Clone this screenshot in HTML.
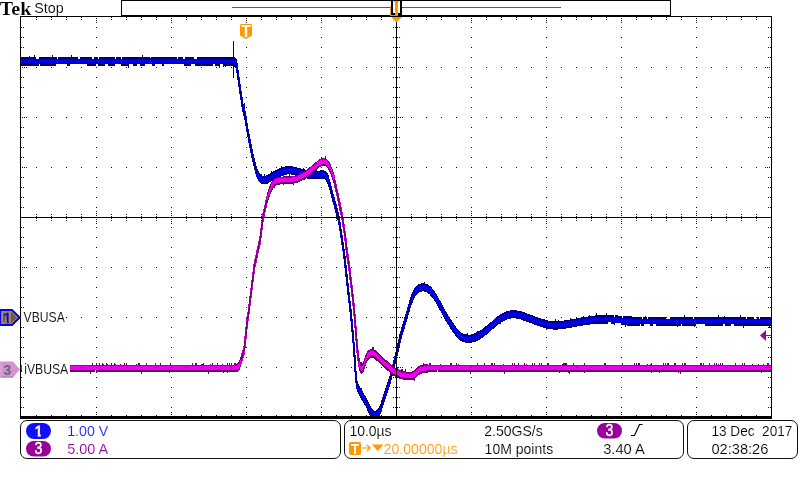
<!DOCTYPE html>
<html lang="en"><head><meta charset="utf-8"><title>Tek scope capture</title>
<style>html,body{margin:0;padding:0;background:#fff;overflow:hidden}svg{display:block}text{white-space:pre}</style></head>
<body>
<svg width="800" height="480" viewBox="0 0 800 480" font-family="Liberation Sans, Arial, sans-serif" font-size="15.5">
<defs><filter id="tf" x="0" y="0" width="800" height="480" filterUnits="userSpaceOnUse" color-interpolation-filters="sRGB"><feOffset dx="0" dy="0"/></filter></defs>
<rect width="800" height="480" fill="#fff"/>
<g shape-rendering="crispEdges">
<path fill="#000074" d="M233 41h1v16h-1zM52 55h1v2h-1zM34 55h1v2h-1zM142 55h1v2h-1zM71 55h1v2h-1zM29 56h1v1h-1zM122 57h28v1h-28zM151 57h26v1h-26zM197 57h38v1h-38zM21 57h15v2h-15zM39 57h18v2h-18zM185 57h9v2h-9zM58 57h20v2h-20zM99 57h16v2h-16zM178 57h5v2h-5zM94 57h4v2h-4zM116 57h5v2h-5zM80 57h12v2h-12zM122 58h55v1h-55zM197 58h39v1h-39zM21 59h216v4h-216zM21 63h217v1h-217zM121 64h8v2h-8zM21 64h18v2h-18zM195 64h18v2h-18zM87 64h9v2h-9zM108 64h7v2h-7zM140 64h5v2h-5zM152 64h3v2h-3zM215 64h5v2h-5zM162 64h2v2h-2zM67 64h3v2h-3zM223 64h15v2h-15zM184 64h7v2h-7zM133 64h4v2h-4zM40 64h16v2h-16zM98 64h7v2h-7zM233 66h5v1h-5zM223 66h1v1h-1zM225 66h1v1h-1zM219 66h1v2h-1zM128 66h1v2h-1zM235 67h3v1h-3zM236 68h2v2h-2zM236 70h3v3h-3zM237 73h2v4h-2zM233 67h1v11h-1zM237 77h3v3h-3zM238 80h2v4h-2zM238 84h3v3h-3zM239 87h2v4h-2zM239 91h3v3h-3zM240 94h2v3h-2zM240 97h3v3h-3zM241 100h2v4h-2zM244 103h1v1h-1zM241 104h4v3h-4zM242 107h3v4h-3zM242 111h4v1h-4zM243 112h3v4h-3zM244 116h3v4h-3zM245 120h2v3h-2zM245 123h3v3h-3zM246 126h2v3h-2zM246 129h3v3h-3zM247 132h2v2h-2zM247 134h3v3h-3zM248 137h2v2h-2zM248 139h3v4h-3zM249 143h2v1h-2zM249 144h3v4h-3zM250 148h2v1h-2zM250 149h3v4h-3zM251 153h2v1h-2zM251 154h3v4h-3zM252 158h3v4h-3zM253 162h3v4h-3zM281 166h1v1h-1zM285 166h8v1h-8zM281 167h16v1h-16zM254 166h3v3h-3zM279 168h22v1h-22zM303 168h1v1h-1zM277 169h28v1h-28zM254 169h4v1h-4zM312 169h1v2h-1zM275 170h34v1h-34zM320 170h4v1h-4zM255 170h3v1h-3zM310 170h1v1h-1zM316 170h1v1h-1zM271 171h1v1h-1zM273 171h53v1h-53zM255 171h4v2h-4zM271 172h56v1h-56zM255 173h5v1h-5zM270 173h58v1h-58zM291 174h37v1h-37zM268 174h19v1h-19zM264 174h1v2h-1zM256 174h6v2h-6zM266 175h17v1h-17zM296 175h33v1h-33zM256 176h25v1h-25zM300 176h29v1h-29zM304 177h25v1h-25zM257 177h21v1h-21zM302 177h1v2h-1zM257 178h19v1h-19zM307 178h22v1h-22zM304 178h1v2h-1zM325 179h5v1h-5zM258 179h16v1h-16zM258 180h14v1h-14zM326 180h4v2h-4zM259 181h12v1h-12zM260 182h9v1h-9zM327 182h4v2h-4zM261 183h7v1h-7zM328 184h3v2h-3zM328 186h4v1h-4zM329 187h3v3h-3zM330 190h3v4h-3zM331 194h3v3h-3zM331 197h4v1h-4zM332 198h3v3h-3zM332 201h4v1h-4zM333 202h3v2h-3zM333 204h4v1h-4zM334 205h3v3h-3zM334 208h4v1h-4zM335 209h3v3h-3zM335 212h4v1h-4zM336 213h3v3h-3zM337 216h3v4h-3zM338 220h2v2h-2zM338 222h3v3h-3zM339 225h2v4h-2zM339 229h3v2h-3zM340 231h2v4h-2zM340 235h3v3h-3zM341 238h2v4h-2zM341 242h3v3h-3zM342 245h2v4h-2zM342 249h3v2h-3zM343 251h2v5h-2zM343 256h3v3h-3zM344 259h2v6h-2zM344 265h3v3h-3zM345 268h2v6h-2zM345 274h3v3h-3zM346 277h2v6h-2zM424 282h1v1h-1zM421 283h4v1h-4zM418 284h10v1h-10zM346 283h3v3h-3zM417 285h12v1h-12zM416 286h15v1h-15zM415 287h17v1h-17zM414 288h18v1h-18zM414 289h19v1h-19zM413 290h21v1h-21zM347 286h2v6h-2zM413 291h9v1h-9zM424 291h11v1h-11zM412 292h7v1h-7zM427 292h8v1h-8zM412 293h6v1h-6zM428 293h8v1h-8zM347 292h3v3h-3zM411 294h6v1h-6zM430 294h7v2h-7zM411 295h5v1h-5zM431 296h7v1h-7zM411 296h4v1h-4zM410 297h5v1h-5zM432 297h6v1h-6zM433 298h6v1h-6zM410 298h4v2h-4zM434 299h5v1h-5zM348 295h2v6h-2zM434 300h6v1h-6zM435 301h6v1h-6zM409 300h4v3h-4zM348 301h3v2h-3zM436 302h5v1h-5zM409 303h3v1h-3zM436 303h6v1h-6zM437 304h5v1h-5zM408 304h4v1h-4zM437 305h6v1h-6zM408 305h3v2h-3zM438 306h5v1h-5zM438 307h6v1h-6zM407 307h4v1h-4zM349 303h2v6h-2zM439 308h5v1h-5zM439 309h6v1h-6zM407 308h3v3h-3zM440 310h5v1h-5zM510 310h7v1h-7zM349 309h3v3h-3zM406 311h4v1h-4zM506 311h16v1h-16zM441 311h5v1h-5zM441 312h6v1h-6zM504 312h21v1h-21zM406 312h3v2h-3zM442 313h5v1h-5zM502 313h25v1h-25zM606 313h1v2h-1zM596 313h1v2h-1zM500 314h30v1h-30zM442 314h6v1h-6zM405 314h4v1h-4zM615 315h3v1h-3zM499 315h34v1h-34zM589 315h1v1h-1zM595 315h19v1h-19zM443 315h5v1h-5zM740 315h1v2h-1zM684 315h1v2h-1zM405 315h3v2h-3zM718 315h1v2h-1zM588 316h26v1h-26zM443 316h6v1h-6zM645 316h1v1h-1zM583 316h1v1h-1zM724 316h1v1h-1zM615 316h7v1h-7zM497 316h38v1h-38zM623 316h9v1h-9zM496 317h42v1h-42zM623 317h19v1h-19zM581 317h41v1h-41zM350 312h2v7h-2zM757 317h2v2h-2zM643 317h4v2h-4zM648 317h18v2h-18zM760 317h11v2h-11zM404 317h4v2h-4zM694 317h52v2h-52zM444 317h6v2h-6zM670 317h23v2h-23zM747 317h7v2h-7zM516 318h25v1h-25zM495 318h16v1h-16zM576 318h66v1h-66zM570 318h1v1h-1zM570 319h201v1h-201zM494 319h13v1h-13zM521 319h24v1h-24zM445 319h6v1h-6zM555 319h1v2h-1zM350 319h3v2h-3zM404 319h3v2h-3zM493 320h12v1h-12zM558 320h1v1h-1zM564 320h207v1h-207zM445 320h7v1h-7zM523 320h25v1h-25zM526 321h245v1h-245zM492 321h11v1h-11zM446 321h6v1h-6zM403 321h4v1h-4zM447 322h6v1h-6zM529 322h79v1h-79zM611 322h160v1h-160zM490 322h11v1h-11zM403 322h3v2h-3zM611 323h4v1h-4zM532 323h76v1h-76zM621 323h150v1h-150zM489 323h12v1h-12zM447 323h7v1h-7zM402 324h4v1h-4zM614 324h1v1h-1zM488 324h10v1h-10zM621 324h19v1h-19zM448 324h6v1h-6zM534 324h56v1h-56zM656 324h25v2h-25zM705 324h18v2h-18zM650 324h3v2h-3zM734 324h37v2h-37zM641 324h3v2h-3zM682 324h14v2h-14zM725 324h6v2h-6zM487 325h10v1h-10zM449 325h6v1h-6zM537 325h46v1h-46zM627 325h13v1h-13zM402 325h3v2h-3zM625 325h1v2h-1zM540 326h37v1h-37zM677 326h1v1h-1zM694 326h1v1h-1zM449 326h7v1h-7zM485 326h11v1h-11zM769 326h1v2h-1zM743 326h1v2h-1zM484 327h11v1h-11zM543 327h29v1h-29zM450 327h6v1h-6zM401 327h4v2h-4zM450 328h7v1h-7zM546 328h20v1h-20zM483 328h11v1h-11zM351 321h2v9h-2zM546 329h1v1h-1zM482 329h10v1h-10zM451 329h7v1h-7zM553 329h5v1h-5zM401 329h3v2h-3zM480 330h11v1h-11zM452 330h7v1h-7zM351 330h3v2h-3zM400 331h4v1h-4zM452 331h8v1h-8zM477 331h13v1h-13zM476 332h13v1h-13zM453 332h8v1h-8zM400 332h3v2h-3zM454 333h9v1h-9zM474 333h14v1h-14zM467 333h1v1h-1zM455 334h13v1h-13zM399 334h4v1h-4zM471 334h16v1h-16zM455 335h30v1h-30zM456 336h28v1h-28zM457 337h26v1h-26zM399 335h3v4h-3zM458 338h23v1h-23zM459 339h21v1h-21zM460 340h18v1h-18zM352 332h2v10h-2zM462 341h14v1h-14zM398 339h3v4h-3zM352 342h3v1h-3zM465 342h7v1h-7zM397 343h3v4h-3zM397 347h2v1h-2zM396 348h3v4h-3zM353 343h2v12h-2zM395 352h3v4h-3zM353 355h3v2h-3zM394 356h3v4h-3zM393 360h3v4h-3zM392 364h3v4h-3zM354 357h2v14h-2zM391 368h3v4h-3zM354 371h3v1h-3zM390 372h3v4h-3zM389 376h3v3h-3zM388 379h4v1h-4zM355 372h2v9h-2zM388 380h3v2h-3zM355 381h3v2h-3zM387 382h4v2h-4zM356 383h2v1h-2zM387 384h3v1h-3zM356 384h3v2h-3zM386 385h4v2h-4zM356 386h4v2h-4zM386 387h3v1h-3zM356 388h6v1h-6zM385 388h4v2h-4zM357 389h5v2h-5zM385 390h3v1h-3zM357 391h6v1h-6zM384 391h4v2h-4zM358 392h5v1h-5zM384 393h3v1h-3zM358 393h6v1h-6zM359 394h5v1h-5zM383 394h4v2h-4zM359 395h6v1h-6zM383 396h3v1h-3zM360 396h6v2h-6zM382 397h4v2h-4zM361 398h6v2h-6zM382 399h3v1h-3zM362 400h6v1h-6zM381 400h4v2h-4zM363 401h5v1h-5zM363 402h6v1h-6zM381 402h3v2h-3zM364 403h5v1h-5zM380 404h4v1h-4zM364 404h6v1h-6zM380 405h3v1h-3zM365 405h5v1h-5zM379 406h4v2h-4zM366 406h5v2h-5zM367 408h5v1h-5zM378 408h4v1h-4zM367 409h6v1h-6zM377 409h5v1h-5zM376 410h6v1h-6zM367 410h7v1h-7zM368 411h14v1h-14zM368 412h13v1h-13zM369 413h12v1h-12zM369 414h11v1h-11zM370 415h10v1h-10z"/>
<path fill="#0000cc" d="M21 59h214v1h-214zM21 60h215v3h-215zM21 63h216v1h-216zM234 64h3v1h-3zM236 65h1v4h-1zM283 168h12v1h-12zM280 169h19v1h-19zM278 170h25v1h-25zM276 171h31v1h-31zM317 172h8v1h-8zM274 172h39v1h-39zM257 172h1v2h-1zM294 173h32v1h-32zM272 173h12v1h-12zM298 174h29v1h-29zM257 174h2v1h-2zM271 174h10v1h-10zM302 175h25v1h-25zM269 175h10v1h-10zM257 175h3v1h-3zM306 176h22v1h-22zM268 176h9v1h-9zM257 176h4v1h-4zM324 177h4v1h-4zM310 177h9v1h-9zM258 177h17v1h-17zM258 178h15v1h-15zM326 178h3v1h-3zM259 179h13v1h-13zM327 179h2v2h-2zM259 180h11v1h-11zM261 181h8v1h-8zM328 181h1v2h-1zM263 182h3v1h-3zM419 285h8v1h-8zM417 286h12v1h-12zM416 287h14v1h-14zM416 288h15v1h-15zM415 289h17v1h-17zM414 290h6v1h-6zM426 290h7v1h-7zM428 291h5v1h-5zM414 291h4v1h-4zM429 292h5v1h-5zM414 292h3v1h-3zM430 293h5v1h-5zM413 293h3v2h-3zM431 294h4v1h-4zM432 295h4v1h-4zM412 295h2v2h-2zM433 296h3v1h-3zM433 297h4v1h-4zM411 297h3v1h-3zM434 298h4v1h-4zM411 298h2v2h-2zM435 299h3v1h-3zM411 300h1v2h-1zM436 300h3v2h-3zM437 302h3v2h-3zM438 304h3v1h-3zM439 305h2v1h-2zM439 306h3v1h-3zM440 307h2v1h-2zM440 308h3v1h-3zM441 309h3v2h-3zM513 311h1v1h-1zM442 311h3v2h-3zM508 312h12v1h-12zM505 313h18v1h-18zM443 313h3v2h-3zM503 314h23v1h-23zM501 315h28v1h-28zM444 315h3v1h-3zM499 316h32v1h-32zM445 316h3v2h-3zM498 317h11v1h-11zM519 317h15v1h-15zM592 317h26v1h-26zM584 318h48v1h-48zM522 318h15v1h-15zM497 318h9v1h-9zM446 318h3v2h-3zM496 319h8v1h-8zM579 319h192v1h-192zM525 319h14v1h-14zM494 320h8v1h-8zM447 320h3v1h-3zM528 320h14v1h-14zM573 320h198v1h-198zM530 321h16v1h-16zM493 321h7v1h-7zM567 321h204v1h-204zM447 321h4v1h-4zM533 322h17v1h-17zM448 322h3v1h-3zM614 322h157v1h-157zM560 322h34v1h-34zM492 322h7v1h-7zM491 323h7v1h-7zM536 323h50v1h-50zM449 323h3v1h-3zM627 323h144v1h-144zM538 324h42v1h-42zM490 324h6v1h-6zM449 324h4v1h-4zM489 325h6v1h-6zM450 325h4v1h-4zM541 325h34v1h-34zM487 326h7v1h-7zM545 326h24v1h-24zM451 326h3v1h-3zM549 327h14v1h-14zM486 327h7v1h-7zM451 327h4v1h-4zM485 328h7v1h-7zM452 328h4v1h-4zM484 329h7v1h-7zM453 329h4v1h-4zM453 330h5v1h-5zM482 330h8v1h-8zM454 331h4v1h-4zM481 331h7v1h-7zM454 332h5v1h-5zM479 332h8v1h-8zM455 333h5v1h-5zM477 333h9v1h-9zM475 334h10v1h-10zM456 334h6v1h-6zM457 335h7v1h-7zM473 335h10v1h-10zM458 336h24v1h-24zM458 337h22v1h-22zM459 338h20v1h-20zM461 339h16v1h-16zM463 340h11v1h-11zM468 341h2v1h-2zM389 379h1v3h-1zM388 382h2v2h-2zM388 384h1v1h-1zM357 384h1v3h-1zM387 385h2v2h-2zM387 387h1v1h-1zM357 387h2v2h-2zM386 388h2v2h-2zM358 389h2v1h-2zM386 390h1v1h-1zM358 390h3v1h-3zM359 391h2v1h-2zM385 391h2v2h-2zM359 392h3v2h-3zM385 393h1v1h-1zM360 394h3v1h-3zM384 394h2v2h-2zM361 395h3v2h-3zM384 396h1v1h-1zM383 397h2v1h-2zM362 397h3v2h-3zM383 398h1v3h-1zM363 399h3v2h-3zM364 401h3v1h-3zM365 402h2v1h-2zM365 403h3v1h-3zM366 404h2v1h-2zM366 405h3v1h-3zM367 406h2v1h-2zM367 407h3v1h-3zM380 407h1v2h-1zM368 408h2v1h-2zM379 409h2v1h-2zM368 409h3v1h-3zM369 410h3v1h-3zM378 410h3v1h-3zM369 411h4v1h-4zM377 411h4v1h-4zM370 412h10v2h-10zM371 414h9v2h-9z"/>
<path fill="#0000f4" d="M21 60h215v2h-215zM234 62h2v1h-2zM235 63h2v2h-2zM236 65h1v4h-1zM283 169h12v1h-12zM280 170h19v1h-19zM278 171h6v1h-6zM294 171h9v1h-9zM298 172h9v1h-9zM276 172h5v1h-5zM257 172h1v2h-1zM317 173h8v1h-8zM274 173h5v1h-5zM302 173h11v1h-11zM257 174h2v1h-2zM306 174h21v1h-21zM272 174h5v1h-5zM324 175h3v1h-3zM310 175h9v1h-9zM271 175h4v1h-4zM257 175h3v1h-3zM269 176h4v1h-4zM257 176h4v1h-4zM326 176h2v2h-2zM258 177h3v1h-3zM268 177h4v1h-4zM326 178h3v1h-3zM258 178h12v1h-12zM259 179h10v1h-10zM327 179h2v2h-2zM263 180h3v1h-3zM259 180h2v1h-2zM328 181h1v2h-1zM419 286h8v1h-8zM417 286h1v1h-1zM416 287h13v1h-13zM426 288h5v1h-5zM416 288h4v1h-4zM428 289h4v1h-4zM415 289h3v1h-3zM429 290h4v1h-4zM414 290h4v2h-4zM430 291h3v1h-3zM430 292h4v1h-4zM414 292h3v1h-3zM430 293h5v1h-5zM413 293h3v2h-3zM431 294h4v1h-4zM432 295h4v1h-4zM412 295h2v2h-2zM433 296h3v1h-3zM433 297h4v1h-4zM411 297h3v1h-3zM434 298h4v1h-4zM411 298h2v2h-2zM435 299h3v1h-3zM411 300h1v2h-1zM436 300h3v2h-3zM437 302h3v2h-3zM438 304h3v1h-3zM439 305h2v1h-2zM439 306h3v1h-3zM440 307h2v1h-2zM440 308h3v1h-3zM441 309h3v2h-3zM442 311h3v2h-3zM513 312h1v1h-1zM508 313h12v1h-12zM443 313h3v2h-3zM505 314h18v1h-18zM519 315h7v1h-7zM503 315h6v1h-6zM444 315h3v1h-3zM522 316h7v1h-7zM501 316h5v1h-5zM445 316h3v2h-3zM525 317h6v1h-6zM498 317h6v1h-6zM497 318h5v1h-5zM528 318h6v1h-6zM592 318h26v1h-26zM446 318h3v2h-3zM584 319h48v1h-48zM496 319h4v1h-4zM530 319h7v1h-7zM494 320h5v1h-5zM447 320h3v1h-3zM614 320h157v1h-157zM579 320h15v1h-15zM533 320h6v1h-6zM493 321h6v1h-6zM627 321h144v1h-144zM573 321h13v1h-13zM447 321h4v1h-4zM536 321h6v1h-6zM538 322h8v1h-8zM567 322h13v1h-13zM492 322h7v1h-7zM448 322h3v1h-3zM491 323h7v1h-7zM560 323h15v1h-15zM449 323h3v1h-3zM541 323h9v1h-9zM490 324h6v1h-6zM545 324h24v1h-24zM449 324h4v1h-4zM489 325h6v1h-6zM549 325h14v1h-14zM450 325h4v1h-4zM451 326h3v1h-3zM489 326h5v1h-5zM487 327h6v1h-6zM451 327h4v1h-4zM486 328h6v1h-6zM452 328h4v1h-4zM489 329h2v1h-2zM485 329h3v1h-3zM453 329h4v1h-4zM453 330h5v1h-5zM489 330h1v1h-1zM484 330h3v1h-3zM454 331h4v1h-4zM482 331h4v1h-4zM481 332h4v1h-4zM454 332h5v1h-5zM479 333h4v1h-4zM455 333h5v1h-5zM477 334h5v1h-5zM456 334h4v1h-4zM475 335h5v1h-5zM457 335h5v1h-5zM473 336h6v1h-6zM458 336h6v1h-6zM458 337h2v1h-2zM461 337h16v1h-16zM463 338h11v1h-11zM459 338h1v1h-1zM468 339h2v1h-2zM389 379h1v3h-1zM388 382h2v2h-2zM388 384h1v1h-1zM357 384h1v3h-1zM387 385h2v2h-2zM387 387h1v1h-1zM357 387h2v2h-2zM386 388h2v2h-2zM358 389h2v1h-2zM386 390h1v1h-1zM358 390h3v1h-3zM359 391h2v1h-2zM385 391h2v2h-2zM359 392h3v2h-3zM385 393h1v1h-1zM360 394h3v1h-3zM384 394h2v2h-2zM361 395h3v2h-3zM384 396h1v1h-1zM383 397h2v1h-2zM362 397h3v2h-3zM383 398h1v3h-1zM363 399h3v2h-3zM364 401h3v1h-3zM365 402h2v1h-2zM365 403h3v1h-3zM366 404h2v1h-2zM366 405h3v1h-3zM367 406h2v1h-2zM367 407h3v1h-3zM380 407h1v2h-1zM368 408h2v1h-2zM379 409h2v1h-2zM368 409h3v1h-3zM369 410h3v1h-3zM378 410h3v1h-3zM369 411h4v1h-4zM377 411h4v1h-4zM370 412h3v1h-3zM376 412h4v1h-4zM370 413h10v1h-10zM371 414h9v2h-9z"/>
<path fill="#0000d4" d="M237 63h1v4h-1zM238 70h1v5h-1zM237 76h1v4h-1zM239 77h1v4h-1zM238 83h1v4h-1zM240 84h1v4h-1zM239 90h1v4h-1zM241 91h1v4h-1zM240 96h1v4h-1zM242 97h1v4h-1zM244 103h1v1h-1zM241 103h1v4h-1zM243 104h2v3h-2zM244 107h1v4h-1zM242 108h1v4h-1zM245 111h1v4h-1zM243 112h1v4h-1zM244 116h1v4h-1zM246 116h1v4h-1zM245 122h1v4h-1zM247 123h1v4h-1zM246 128h1v4h-1zM248 129h1v3h-1zM247 134h1v3h-1zM249 134h1v4h-1zM248 139h1v4h-1zM250 139h1v4h-1zM251 144h1v4h-1zM249 144h1v4h-1zM252 149h1v4h-1zM250 149h1v4h-1zM251 154h1v4h-1zM253 154h1v4h-1zM254 158h1v4h-1zM252 159h1v3h-1zM255 162h1v4h-1zM253 163h1v3h-1zM256 166h1v3h-1zM254 167h1v3h-1zM255 170h1v3h-1zM255 173h2v1h-2zM256 174h1v3h-1zM329 179h1v3h-1zM330 182h1v4h-1zM331 186h1v3h-1zM329 187h1v3h-1zM332 190h1v3h-1zM330 191h1v3h-1zM333 194h1v3h-1zM331 195h1v3h-1zM334 197h1v4h-1zM332 198h1v4h-1zM335 201h1v3h-1zM333 202h1v3h-1zM336 204h1v4h-1zM334 206h1v3h-1zM337 208h1v3h-1zM335 209h1v4h-1zM338 212h1v3h-1zM336 213h1v3h-1zM337 216h1v4h-1zM339 216h1v4h-1zM338 221h1v4h-1zM340 222h1v4h-1zM339 228h1v3h-1zM341 229h1v3h-1zM340 234h1v4h-1zM342 235h1v4h-1zM341 240h1v5h-1zM343 242h1v4h-1zM342 247h1v4h-1zM344 249h1v4h-1zM343 254h1v5h-1zM345 256h1v5h-1zM344 263h1v5h-1zM346 265h1v5h-1zM345 272h1v5h-1zM347 274h1v5h-1zM346 281h1v5h-1zM348 283h1v5h-1zM347 290h1v5h-1zM349 292h1v5h-1zM410 297h1v3h-1zM348 299h1v4h-1zM409 300h1v4h-1zM350 301h1v5h-1zM408 304h1v3h-1zM410 305h1v3h-1zM407 307h1v4h-1zM349 307h1v5h-1zM409 309h1v3h-1zM351 309h1v5h-1zM406 311h1v3h-1zM408 312h1v3h-1zM405 314h1v3h-1zM407 316h1v3h-1zM350 316h1v5h-1zM404 317h1v4h-1zM406 319h1v3h-1zM403 321h1v3h-1zM352 319h1v6h-1zM405 322h1v3h-1zM402 324h1v3h-1zM404 325h1v4h-1zM401 327h1v3h-1zM351 327h1v5h-1zM403 329h1v3h-1zM400 331h1v3h-1zM402 332h1v3h-1zM353 330h1v6h-1zM399 334h1v4h-1zM401 335h1v4h-1zM398 339h1v3h-1zM352 338h1v5h-1zM400 339h1v4h-1zM399 343h1v4h-1zM397 343h1v4h-1zM354 342h1v6h-1zM396 348h1v3h-1zM398 348h1v4h-1zM395 352h1v3h-1zM397 353h1v3h-1zM353 351h1v6h-1zM394 356h1v3h-1zM396 357h1v3h-1zM355 355h1v7h-1zM393 360h1v4h-1zM395 361h1v3h-1zM392 364h1v4h-1zM394 365h1v3h-1zM354 365h1v7h-1zM391 368h1v4h-1zM393 369h1v3h-1zM390 372h1v3h-1zM392 373h1v3h-1zM356 371h1v7h-1zM391 377h1v3h-1zM355 379h1v4h-1zM390 381h1v3h-1zM356 386h1v3h-1zM382 397h1v3h-1zM381 400h1v3h-1zM382 405h1v3h-1zM381 408h1v4h-1z"/>
<path fill="#6c006c" d="M325 156h1v2h-1zM321 158h5v1h-5zM319 159h8v1h-8zM318 160h10v1h-10zM317 161h12v1h-12zM315 162h15v1h-15zM314 163h16v1h-16zM313 164h18v1h-18zM312 165h19v1h-19zM311 166h10v1h-10zM326 166h5v1h-5zM327 167h5v1h-5zM309 167h10v1h-10zM328 168h4v1h-4zM308 168h10v1h-10zM307 169h10v1h-10zM328 169h5v1h-5zM306 170h10v1h-10zM329 170h4v2h-4zM304 171h11v1h-11zM299 172h1v1h-1zM302 172h11v1h-11zM330 172h4v2h-4zM299 173h13v1h-13zM331 174h3v1h-3zM298 174h13v1h-13zM289 174h1v2h-1zM295 175h15v1h-15zM283 175h1v1h-1zM331 175h4v2h-4zM283 176h26v1h-26zM276 177h31v1h-31zM274 178h32v1h-32zM332 177h3v3h-3zM273 179h31v1h-31zM272 180h30v1h-30zM272 181h28v1h-28zM333 180h3v3h-3zM271 182h27v1h-27zM334 183h2v1h-2zM271 183h23v1h-23zM270 184h10v1h-10zM283 184h1v1h-1zM293 184h1v1h-1zM270 185h6v1h-6zM334 184h3v4h-3zM269 186h6v2h-6zM335 188h2v1h-2zM269 188h4v1h-4zM268 189h5v1h-5zM335 189h3v3h-3zM268 190h4v2h-4zM336 192h2v1h-2zM267 192h4v2h-4zM336 193h3v3h-3zM267 194h3v2h-3zM266 196h4v1h-4zM337 196h2v2h-2zM266 197h3v3h-3zM337 198h3v3h-3zM338 201h2v1h-2zM265 200h3v3h-3zM265 203h2v2h-2zM338 202h3v4h-3zM339 206h2v1h-2zM264 205h3v3h-3zM264 208h2v1h-2zM339 207h3v4h-3zM263 209h3v3h-3zM340 211h2v1h-2zM263 212h2v1h-2zM340 212h3v3h-3zM262 213h3v4h-3zM341 215h2v3h-2zM262 217h2v3h-2zM341 218h3v2h-3zM261 220h3v2h-3zM342 220h2v4h-2zM342 224h3v3h-3zM261 222h2v6h-2zM260 228h3v2h-3zM343 227h2v4h-2zM343 231h3v2h-3zM260 230h2v6h-2zM344 233h2v5h-2zM259 236h3v2h-3zM344 238h3v3h-3zM259 238h2v3h-2zM258 241h3v4h-3zM258 245h2v1h-2zM345 241h2v6h-2zM257 246h3v3h-3zM345 247h3v3h-3zM257 249h2v1h-2zM256 250h3v3h-3zM346 250h2v4h-2zM256 253h2v2h-2zM346 254h3v4h-3zM255 255h3v3h-3zM255 258h2v1h-2zM347 258h2v3h-2zM254 259h3v4h-3zM347 261h3v3h-3zM254 263h2v1h-2zM253 264h3v3h-3zM348 264h2v4h-2zM348 268h3v3h-3zM253 267h2v5h-2zM252 272h3v2h-3zM349 271h2v6h-2zM252 274h2v6h-2zM349 277h3v3h-3zM251 280h3v2h-3zM350 280h2v5h-2zM251 282h2v6h-2zM350 285h3v3h-3zM250 288h3v2h-3zM351 288h2v6h-2zM250 290h2v6h-2zM351 294h3v3h-3zM249 296h3v2h-3zM352 297h2v6h-2zM249 298h2v6h-2zM352 303h3v3h-3zM248 304h3v2h-3zM248 306h2v6h-2zM353 306h2v8h-2zM247 312h3v2h-3zM353 314h3v2h-3zM247 314h2v4h-2zM246 318h3v3h-3zM354 316h2v10h-2zM246 321h2v6h-2zM354 326h3v2h-3zM245 327h3v2h-3zM245 329h2v7h-2zM355 328h2v11h-2zM244 336h3v3h-3zM355 339h3v2h-3zM244 339h2v7h-2zM243 346h3v2h-3zM372 347h2v2h-2zM356 341h2v9h-2zM243 348h2v2h-2zM370 349h4v1h-4zM368 350h8v1h-8zM367 351h10v1h-10zM242 350h3v3h-3zM356 350h3v3h-3zM367 352h11v1h-11zM366 353h13v1h-13zM241 353h4v2h-4zM366 354h14v1h-14zM365 355h16v1h-16zM241 355h3v2h-3zM365 356h17v1h-17zM357 353h2v5h-2zM365 357h18v1h-18zM240 357h4v1h-4zM364 358h6v1h-6zM374 358h10v1h-10zM240 358h3v2h-3zM375 359h10v1h-10zM364 359h5v1h-5zM357 358h3v3h-3zM364 360h4v1h-4zM376 360h11v1h-11zM239 360h4v1h-4zM378 361h10v1h-10zM358 361h2v1h-2zM239 361h3v1h-3zM363 361h4v2h-4zM358 362h4v1h-4zM379 362h10v1h-10zM238 362h4v1h-4zM234 363h2v1h-2zM114 363h1v1h-1zM563 363h4v1h-4zM380 363h10v1h-10zM651 363h1v1h-1zM106 363h1v1h-1zM102 363h1v1h-1zM423 363h1v1h-1zM203 363h1v1h-1zM237 363h5v1h-5zM491 363h2v2h-2zM494 363h1v2h-1zM622 363h1v2h-1zM99 363h1v2h-1zM742 363h1v2h-1zM638 363h2v2h-2zM539 363h1v2h-1zM684 363h2v2h-2zM450 363h2v2h-2zM477 363h1v2h-1zM138 363h2v2h-2zM155 363h1v2h-1zM541 363h1v2h-1zM573 363h1v2h-1zM767 363h2v2h-2zM720 363h1v2h-1zM192 363h1v2h-1zM665 363h1v2h-1zM160 363h1v2h-1zM96 363h1v2h-1zM532 363h1v2h-1zM146 363h1v2h-1zM547 363h2v2h-2zM518 363h1v2h-1zM229 363h1v2h-1zM716 363h1v2h-1zM124 363h1v2h-1zM744 363h1v2h-1zM667 363h2v2h-2zM514 363h1v2h-1zM170 363h1v2h-1zM700 363h2v2h-2zM195 363h2v2h-2zM212 363h1v2h-1zM524 363h1v2h-1zM703 363h1v2h-1zM92 363h1v2h-1zM429 363h2v2h-2zM735 363h1v2h-1zM111 363h1v2h-1zM231 363h1v2h-1zM456 363h1v2h-1zM634 363h1v2h-1zM604 363h2v2h-2zM534 363h1v2h-1zM584 363h1v2h-1zM722 363h1v2h-1zM217 363h1v2h-1zM126 363h1v2h-1zM227 363h1v2h-1zM636 363h1v2h-1zM484 363h1v2h-1zM663 363h1v2h-1zM709 363h1v2h-1zM674 363h2v2h-2zM682 363h1v2h-1zM512 363h1v2h-1zM714 363h1v2h-1zM526 364h1v1h-1zM381 364h10v1h-10zM718 364h1v1h-1zM136 364h1v1h-1zM210 364h1v1h-1zM562 364h5v1h-5zM758 364h1v1h-1zM650 364h2v1h-2zM201 364h3v1h-3zM106 364h2v1h-2zM423 364h5v1h-5zM102 364h2v1h-2zM752 364h1v1h-1zM120 364h1v1h-1zM763 364h1v1h-1zM222 364h1v1h-1zM392 364h1v1h-1zM458 364h1v1h-1zM440 364h1v1h-1zM647 364h1v1h-1zM234 364h7v1h-7zM114 364h2v1h-2zM503 364h1v1h-1zM358 363h8v3h-8zM382 365h11v1h-11zM420 365h351v1h-351zM70 365h171v2h-171zM418 366h353v1h-353zM358 366h7v1h-7zM383 366h10v1h-10zM397 367h1v1h-1zM384 367h11v1h-11zM417 367h354v1h-354zM359 367h6v2h-6zM416 368h355v1h-355zM385 368h13v1h-13zM70 367h170v3h-170zM401 369h2v1h-2zM386 369h13v1h-13zM415 369h356v1h-356zM359 369h5v2h-5zM405 369h1v2h-1zM414 370h23v1h-23zM96 370h143v1h-143zM387 370h16v1h-16zM21 365h1v7h-1zM438 370h333v2h-333zM70 370h25v2h-25zM360 371h4v1h-4zM412 371h25v1h-25zM96 371h142v1h-142zM389 371h17v1h-17zM678 372h1v1h-1zM360 372h3v1h-3zM761 372h1v1h-1zM169 372h1v1h-1zM559 372h1v1h-1zM390 372h38v1h-38zM96 372h1v1h-1zM651 372h1v1h-1zM584 372h1v1h-1zM227 372h1v1h-1zM568 372h2v1h-2zM223 372h1v1h-1zM659 372h1v1h-1zM90 372h1v2h-1zM141 372h1v2h-1zM504 372h1v2h-1zM680 372h1v2h-1zM470 372h1v2h-1zM208 372h1v2h-1zM361 373h1v1h-1zM391 373h31v1h-31zM569 373h1v1h-1zM392 374h28v1h-28zM393 375h25v1h-25zM395 376h22v1h-22zM397 377h19v1h-19zM395 377h1v1h-1zM399 378h16v1h-16zM403 379h12v1h-12zM414 380h1v1h-1z"/>
<path fill="#a000a0" d="M323 158h1v1h-1zM320 159h7v1h-7zM318 160h9v1h-9zM318 161h10v1h-10zM317 162h11v1h-11zM316 163h13v1h-13zM326 164h3v1h-3zM315 164h6v1h-6zM314 165h5v1h-5zM327 165h3v1h-3zM328 166h2v1h-2zM312 166h6v1h-6zM311 167h6v1h-6zM329 167h2v2h-2zM310 168h6v1h-6zM308 169h7v1h-7zM330 169h2v2h-2zM306 170h7v1h-7zM331 171h1v1h-1zM305 171h7v1h-7zM303 172h8v1h-8zM331 172h2v2h-2zM301 173h9v1h-9zM332 174h1v1h-1zM299 174h10v1h-10zM297 175h10v1h-10zM332 175h2v2h-2zM291 176h15v1h-15zM278 177h26v1h-26zM275 178h27v1h-27zM333 177h1v3h-1zM274 179h26v1h-26zM274 180h24v1h-24zM273 181h21v1h-21zM272 182h8v1h-8zM272 183h4v1h-4zM271 184h3v1h-3zM271 185h2v2h-2zM270 187h2v2h-2zM269 189h2v2h-2zM269 191h1v1h-1zM268 192h2v2h-2zM268 194h1v1h-1zM267 195h2v1h-2zM267 196h1v4h-1zM370 350h4v1h-4zM369 351h6v1h-6zM368 352h8v1h-8zM367 353h10v1h-10zM367 354h11v1h-11zM367 355h4v1h-4zM373 355h6v1h-6zM366 356h3v1h-3zM375 356h5v1h-5zM366 357h2v1h-2zM376 357h5v1h-5zM377 358h5v1h-5zM365 358h2v2h-2zM378 359h5v1h-5zM365 360h1v1h-1zM379 360h5v1h-5zM380 361h5v1h-5zM364 361h2v1h-2zM240 360h1v3h-1zM381 362h5v1h-5zM364 362h1v2h-1zM382 363h6v1h-6zM239 363h2v1h-2zM383 364h6v1h-6zM363 364h2v1h-2zM237 364h3v1h-3zM359 362h1v4h-1zM363 365h1v1h-1zM424 365h347v1h-347zM384 365h6v1h-6zM70 365h170v2h-170zM420 366h351v1h-351zM359 366h5v1h-5zM386 366h5v1h-5zM360 367h4v1h-4zM387 367h6v1h-6zM418 367h353v2h-353zM70 367h169v2h-169zM388 368h7v1h-7zM21 365h1v5h-1zM360 368h3v2h-3zM389 369h7v1h-7zM70 369h168v1h-168zM417 369h354v1h-354zM361 370h1v1h-1zM390 370h9v1h-9zM416 370h10v1h-10zM391 371h10v1h-10zM414 371h7v1h-7zM412 372h7v1h-7zM392 372h14v1h-14zM394 373h24v1h-24zM395 374h22v1h-22zM398 375h18v1h-18zM400 376h15v1h-15zM404 377h9v1h-9z"/>
<path fill="#ee00ee" d="M323 159h1v1h-1zM320 160h7v1h-7zM318 161h10v1h-10zM317 162h11v1h-11zM316 163h13v1h-13zM326 164h3v1h-3zM315 164h6v1h-6zM314 165h5v1h-5zM327 165h3v1h-3zM328 166h2v1h-2zM312 166h6v1h-6zM311 167h6v1h-6zM329 167h2v2h-2zM310 168h6v1h-6zM309 169h6v1h-6zM330 169h2v2h-2zM308 170h5v1h-5zM331 171h1v1h-1zM306 171h6v1h-6zM305 172h6v1h-6zM331 172h2v2h-2zM303 173h7v1h-7zM332 174h1v1h-1zM301 174h8v1h-8zM299 175h8v1h-8zM332 175h2v2h-2zM297 176h9v1h-9zM291 177h13v1h-13zM278 178h24v1h-24zM333 177h1v3h-1zM275 179h25v1h-25zM274 180h24v1h-24zM273 181h21v1h-21zM272 182h8v1h-8zM272 183h4v1h-4zM271 184h3v1h-3zM271 185h2v2h-2zM270 187h2v2h-2zM269 189h2v2h-2zM269 191h1v1h-1zM268 192h2v2h-2zM268 194h1v1h-1zM267 195h2v1h-2zM267 196h1v4h-1zM370 351h4v1h-4zM368 352h7v1h-7zM367 353h10v1h-10zM367 354h11v1h-11zM367 355h4v1h-4zM373 355h6v1h-6zM366 356h3v1h-3zM375 356h5v1h-5zM366 357h2v1h-2zM376 357h5v1h-5zM377 358h5v1h-5zM365 358h2v2h-2zM378 359h5v1h-5zM365 360h1v1h-1zM379 360h5v1h-5zM380 361h5v1h-5zM364 361h2v1h-2zM240 360h1v3h-1zM381 362h5v1h-5zM364 362h1v2h-1zM382 363h6v1h-6zM239 363h2v1h-2zM383 364h6v1h-6zM238 364h2v1h-2zM363 364h2v1h-2zM359 362h1v4h-1zM363 365h1v1h-1zM384 365h6v1h-6zM237 365h3v1h-3zM424 366h347v1h-347zM70 366h170v1h-170zM359 366h2v1h-2zM386 366h5v1h-5zM362 366h2v1h-2zM360 367h4v1h-4zM387 367h5v1h-5zM420 367h351v1h-351zM70 367h169v2h-169zM418 368h353v1h-353zM388 368h5v1h-5zM21 366h1v4h-1zM360 368h3v2h-3zM70 369h168v1h-168zM389 369h6v1h-6zM417 369h354v1h-354zM361 370h1v1h-1zM416 370h10v1h-10zM390 370h6v1h-6zM415 371h6v1h-6zM391 371h8v1h-8zM392 372h9v1h-9zM414 372h5v1h-5zM394 373h12v1h-12zM412 373h6v1h-6zM395 374h22v1h-22zM398 375h18v1h-18zM400 376h15v1h-15zM404 377h9v1h-9z"/>
<path fill="#c000c4" d="M334 175h1v4h-1zM335 180h1v3h-1zM336 184h1v3h-1zM334 184h1v4h-1zM335 188h1v4h-1zM337 189h1v3h-1zM336 193h1v3h-1zM338 193h1v3h-1zM266 196h1v3h-1zM337 197h1v4h-1zM339 198h1v3h-1zM265 200h1v3h-1zM340 202h1v4h-1zM338 202h1v4h-1zM266 204h1v4h-1zM264 205h1v3h-1zM339 207h1v4h-1zM341 207h1v4h-1zM263 209h1v3h-1zM265 209h1v3h-1zM340 212h1v3h-1zM342 212h1v4h-1zM264 213h1v4h-1zM262 213h1v4h-1zM341 217h1v3h-1zM343 218h1v4h-1zM263 218h1v4h-1zM261 220h1v4h-1zM342 223h1v4h-1zM344 224h1v4h-1zM262 226h1v4h-1zM260 228h1v4h-1zM343 229h1v4h-1zM345 231h1v3h-1zM261 234h1v4h-1zM259 236h1v4h-1zM344 236h1v5h-1zM346 238h1v5h-1zM258 241h1v3h-1zM260 241h1v4h-1zM259 245h1v4h-1zM257 246h1v3h-1zM345 245h1v5h-1zM347 247h1v5h-1zM256 250h1v3h-1zM258 250h1v3h-1zM346 253h1v5h-1zM257 254h1v4h-1zM255 255h1v3h-1zM348 254h1v5h-1zM256 259h1v4h-1zM254 259h1v4h-1zM347 260h1v4h-1zM349 261h1v4h-1zM255 264h1v3h-1zM253 264h1v4h-1zM348 266h1v5h-1zM350 268h1v5h-1zM254 269h1v5h-1zM252 272h1v4h-1zM349 275h1v5h-1zM253 277h1v5h-1zM351 277h1v5h-1zM251 280h1v4h-1zM350 283h1v5h-1zM252 285h1v5h-1zM352 285h1v5h-1zM250 288h1v4h-1zM351 292h1v5h-1zM251 294h1v4h-1zM353 294h1v5h-1zM249 296h1v4h-1zM352 300h1v6h-1zM250 302h1v4h-1zM248 304h1v4h-1zM354 303h1v6h-1zM249 310h1v4h-1zM353 310h1v6h-1zM247 312h1v4h-1zM355 314h1v6h-1zM248 317h1v4h-1zM246 318h1v4h-1zM354 322h1v6h-1zM247 324h1v5h-1zM245 327h1v5h-1zM356 326h1v7h-1zM246 334h1v5h-1zM355 335h1v6h-1zM244 336h1v5h-1zM357 339h1v6h-1zM245 343h1v5h-1zM243 346h1v4h-1zM356 347h1v6h-1zM242 350h1v3h-1zM244 351h1v3h-1zM358 350h1v5h-1zM243 354h2v1h-2zM241 353h1v3h-1zM243 355h1v3h-1zM357 356h1v5h-1zM242 358h1v3h-1zM241 361h1v3h-1zM358 362h1v5h-1z"/>
<rect x="121.5" y="0.5" width="549" height="15" fill="#fff" stroke="#000"/>
<rect x="232" y="7" width="329" height="1" fill="#b020b0"/>
<rect x="20" y="16" width="752" height="1" fill="#000"/>
<rect x="121" y="15" width="550" height="1" fill="#000"/>
<rect x="20" y="16" width="1" height="403" fill="#000"/>
<rect x="771" y="16" width="1" height="403" fill="#000"/>
<rect x="20" y="416" width="752" height="3" fill="#000"/>
<rect x="21" y="217" width="750" height="1" fill="#000"/>
<rect x="396" y="17" width="1" height="399" fill="#000"/>
<path fill="#111" d="M21 27h1v1h-1zM21 37h1v1h-1zM21 47h1v1h-1zM21 57h1v1h-1zM21 77h1v1h-1zM21 87h1v1h-1zM21 97h1v1h-1zM21 107h1v1h-1zM21 127h1v1h-1zM21 137h1v1h-1zM21 147h1v1h-1zM21 157h1v1h-1zM21 177h1v1h-1zM21 187h1v1h-1zM21 197h1v1h-1zM21 207h1v1h-1zM21 227h1v1h-1zM21 237h1v1h-1zM21 247h1v1h-1zM21 257h1v1h-1zM21 277h1v1h-1zM21 287h1v1h-1zM21 297h1v1h-1zM21 307h1v1h-1zM21 327h1v1h-1zM21 337h1v1h-1zM21 347h1v1h-1zM21 357h1v1h-1zM21 377h1v1h-1zM21 387h1v1h-1zM21 397h1v1h-1zM21 407h1v1h-1zM22 67h1v1h-1zM22 117h1v1h-1zM22 167h1v1h-1zM22 217h1v1h-1zM22 267h1v1h-1zM23 27h1v1h-1zM23 37h1v1h-1zM23 47h1v1h-1zM23 57h1v1h-1zM23 77h1v1h-1zM23 87h1v1h-1zM23 97h1v1h-1zM23 107h1v1h-1zM23 127h1v1h-1zM23 137h1v1h-1zM23 147h1v1h-1zM23 157h1v1h-1zM23 177h1v1h-1zM23 187h1v1h-1zM23 197h1v1h-1zM23 207h1v1h-1zM23 227h1v1h-1zM23 237h1v1h-1zM23 247h1v1h-1zM23 257h1v1h-1zM23 277h1v1h-1zM23 287h1v1h-1zM23 297h1v1h-1zM23 307h1v1h-1zM23 327h1v1h-1zM23 337h1v1h-1zM23 347h1v1h-1zM23 357h1v1h-1zM23 387h1v1h-1zM23 397h1v1h-1zM23 407h1v1h-1zM24 67h1v1h-1zM24 117h1v1h-1zM24 167h1v1h-1zM24 217h1v1h-1zM24 267h1v1h-1zM26 67h1v1h-1zM26 117h1v1h-1zM26 167h1v1h-1zM26 217h1v1h-1zM26 267h1v1h-1zM36 17h1v1h-1zM36 19h1v1h-1zM36 67h1v1h-1zM36 117h1v1h-1zM36 167h1v1h-1zM36 214h1v1h-1zM36 216h1v1h-1zM36 218h1v1h-1zM36 220h1v1h-1zM36 267h1v1h-1zM36 415h1v1h-1zM51 17h1v1h-1zM51 19h1v1h-1zM51 67h1v1h-1zM51 117h1v1h-1zM51 167h1v1h-1zM51 214h1v1h-1zM51 216h1v1h-1zM51 218h1v1h-1zM51 220h1v1h-1zM51 267h1v1h-1zM51 415h1v1h-1zM66 17h1v1h-1zM66 19h1v1h-1zM66 67h1v1h-1zM66 117h1v1h-1zM66 167h1v1h-1zM66 214h1v1h-1zM66 216h1v1h-1zM66 218h1v1h-1zM66 220h1v1h-1zM66 267h1v1h-1zM66 317h1v1h-1zM66 415h1v1h-1zM81 17h1v1h-1zM81 19h1v1h-1zM81 67h1v1h-1zM81 117h1v1h-1zM81 167h1v1h-1zM81 214h1v1h-1zM81 216h1v1h-1zM81 218h1v1h-1zM81 220h1v1h-1zM81 267h1v1h-1zM81 317h1v1h-1zM81 367h1v1h-1zM81 415h1v1h-1zM96 18h1v1h-1zM96 20h1v1h-1zM96 22h1v1h-1zM96 27h1v1h-1zM96 37h1v1h-1zM96 47h1v1h-1zM96 57h1v1h-1zM96 67h1v1h-1zM96 77h1v1h-1zM96 87h1v1h-1zM96 97h1v1h-1zM96 107h1v1h-1zM96 117h1v1h-1zM96 127h1v1h-1zM96 137h1v1h-1zM96 147h1v1h-1zM96 157h1v1h-1zM96 167h1v1h-1zM96 177h1v1h-1zM96 187h1v1h-1zM96 197h1v1h-1zM96 207h1v1h-1zM96 211h1v1h-1zM96 213h1v1h-1zM96 215h1v1h-1zM96 217h1v1h-1zM96 219h1v1h-1zM96 221h1v1h-1zM96 223h1v1h-1zM96 227h1v1h-1zM96 237h1v1h-1zM96 247h1v1h-1zM96 257h1v1h-1zM96 267h1v1h-1zM96 277h1v1h-1zM96 287h1v1h-1zM96 297h1v1h-1zM96 307h1v1h-1zM96 317h1v1h-1zM96 327h1v1h-1zM96 337h1v1h-1zM96 347h1v1h-1zM96 357h1v1h-1zM96 367h1v1h-1zM96 377h1v1h-1zM96 387h1v1h-1zM96 397h1v1h-1zM96 407h1v1h-1zM96 412h1v1h-1zM96 414h1v1h-1zM111 17h1v1h-1zM111 19h1v1h-1zM111 67h1v1h-1zM111 117h1v1h-1zM111 167h1v1h-1zM111 214h1v1h-1zM111 216h1v1h-1zM111 218h1v1h-1zM111 220h1v1h-1zM111 267h1v1h-1zM111 317h1v1h-1zM111 367h1v1h-1zM111 415h1v1h-1zM126 17h1v1h-1zM126 19h1v1h-1zM126 67h1v1h-1zM126 117h1v1h-1zM126 167h1v1h-1zM126 214h1v1h-1zM126 216h1v1h-1zM126 218h1v1h-1zM126 220h1v1h-1zM126 267h1v1h-1zM126 317h1v1h-1zM126 367h1v1h-1zM126 415h1v1h-1zM141 17h1v1h-1zM141 19h1v1h-1zM141 67h1v1h-1zM141 117h1v1h-1zM141 167h1v1h-1zM141 214h1v1h-1zM141 216h1v1h-1zM141 218h1v1h-1zM141 220h1v1h-1zM141 267h1v1h-1zM141 317h1v1h-1zM141 367h1v1h-1zM141 415h1v1h-1zM156 17h1v1h-1zM156 19h1v1h-1zM156 67h1v1h-1zM156 117h1v1h-1zM156 167h1v1h-1zM156 214h1v1h-1zM156 216h1v1h-1zM156 218h1v1h-1zM156 220h1v1h-1zM156 267h1v1h-1zM156 317h1v1h-1zM156 367h1v1h-1zM156 415h1v1h-1zM171 18h1v1h-1zM171 20h1v1h-1zM171 22h1v1h-1zM171 27h1v1h-1zM171 37h1v1h-1zM171 47h1v1h-1zM171 57h1v1h-1zM171 67h1v1h-1zM171 77h1v1h-1zM171 87h1v1h-1zM171 97h1v1h-1zM171 107h1v1h-1zM171 117h1v1h-1zM171 127h1v1h-1zM171 137h1v1h-1zM171 147h1v1h-1zM171 157h1v1h-1zM171 167h1v1h-1zM171 177h1v1h-1zM171 187h1v1h-1zM171 197h1v1h-1zM171 207h1v1h-1zM171 211h1v1h-1zM171 213h1v1h-1zM171 215h1v1h-1zM171 217h1v1h-1zM171 219h1v1h-1zM171 221h1v1h-1zM171 223h1v1h-1zM171 227h1v1h-1zM171 237h1v1h-1zM171 247h1v1h-1zM171 257h1v1h-1zM171 267h1v1h-1zM171 277h1v1h-1zM171 287h1v1h-1zM171 297h1v1h-1zM171 307h1v1h-1zM171 317h1v1h-1zM171 327h1v1h-1zM171 337h1v1h-1zM171 347h1v1h-1zM171 357h1v1h-1zM171 367h1v1h-1zM171 377h1v1h-1zM171 387h1v1h-1zM171 397h1v1h-1zM171 407h1v1h-1zM171 412h1v1h-1zM171 414h1v1h-1zM186 17h1v1h-1zM186 19h1v1h-1zM186 67h1v1h-1zM186 117h1v1h-1zM186 167h1v1h-1zM186 214h1v1h-1zM186 216h1v1h-1zM186 218h1v1h-1zM186 220h1v1h-1zM186 267h1v1h-1zM186 317h1v1h-1zM186 367h1v1h-1zM186 415h1v1h-1zM201 17h1v1h-1zM201 19h1v1h-1zM201 67h1v1h-1zM201 117h1v1h-1zM201 167h1v1h-1zM201 214h1v1h-1zM201 216h1v1h-1zM201 218h1v1h-1zM201 220h1v1h-1zM201 267h1v1h-1zM201 317h1v1h-1zM201 367h1v1h-1zM201 415h1v1h-1zM216 17h1v1h-1zM216 19h1v1h-1zM216 67h1v1h-1zM216 117h1v1h-1zM216 167h1v1h-1zM216 214h1v1h-1zM216 216h1v1h-1zM216 218h1v1h-1zM216 220h1v1h-1zM216 267h1v1h-1zM216 317h1v1h-1zM216 367h1v1h-1zM216 415h1v1h-1zM231 17h1v1h-1zM231 19h1v1h-1zM231 67h1v1h-1zM231 117h1v1h-1zM231 167h1v1h-1zM231 214h1v1h-1zM231 216h1v1h-1zM231 218h1v1h-1zM231 220h1v1h-1zM231 267h1v1h-1zM231 317h1v1h-1zM231 367h1v1h-1zM231 415h1v1h-1zM246 18h1v1h-1zM246 20h1v1h-1zM246 22h1v1h-1zM246 27h1v1h-1zM246 37h1v1h-1zM246 47h1v1h-1zM246 57h1v1h-1zM246 67h1v1h-1zM246 77h1v1h-1zM246 87h1v1h-1zM246 97h1v1h-1zM246 107h1v1h-1zM246 117h1v1h-1zM246 127h1v1h-1zM246 137h1v1h-1zM246 147h1v1h-1zM246 157h1v1h-1zM246 167h1v1h-1zM246 177h1v1h-1zM246 187h1v1h-1zM246 197h1v1h-1zM246 207h1v1h-1zM246 211h1v1h-1zM246 213h1v1h-1zM246 215h1v1h-1zM246 217h1v1h-1zM246 219h1v1h-1zM246 221h1v1h-1zM246 223h1v1h-1zM246 227h1v1h-1zM246 237h1v1h-1zM246 247h1v1h-1zM246 257h1v1h-1zM246 267h1v1h-1zM246 277h1v1h-1zM246 287h1v1h-1zM246 297h1v1h-1zM246 307h1v1h-1zM246 317h1v1h-1zM246 327h1v1h-1zM246 337h1v1h-1zM246 347h1v1h-1zM246 357h1v1h-1zM246 367h1v1h-1zM246 377h1v1h-1zM246 387h1v1h-1zM246 397h1v1h-1zM246 407h1v1h-1zM246 412h1v1h-1zM246 414h1v1h-1zM261 17h1v1h-1zM261 19h1v1h-1zM261 67h1v1h-1zM261 117h1v1h-1zM261 167h1v1h-1zM261 214h1v1h-1zM261 216h1v1h-1zM261 218h1v1h-1zM261 220h1v1h-1zM261 267h1v1h-1zM261 317h1v1h-1zM261 367h1v1h-1zM261 415h1v1h-1zM276 17h1v1h-1zM276 19h1v1h-1zM276 67h1v1h-1zM276 117h1v1h-1zM276 167h1v1h-1zM276 214h1v1h-1zM276 216h1v1h-1zM276 218h1v1h-1zM276 220h1v1h-1zM276 267h1v1h-1zM276 317h1v1h-1zM276 367h1v1h-1zM276 415h1v1h-1zM291 17h1v1h-1zM291 19h1v1h-1zM291 67h1v1h-1zM291 117h1v1h-1zM291 167h1v1h-1zM291 214h1v1h-1zM291 216h1v1h-1zM291 218h1v1h-1zM291 220h1v1h-1zM291 267h1v1h-1zM291 317h1v1h-1zM291 367h1v1h-1zM291 415h1v1h-1zM306 17h1v1h-1zM306 19h1v1h-1zM306 67h1v1h-1zM306 117h1v1h-1zM306 167h1v1h-1zM306 214h1v1h-1zM306 216h1v1h-1zM306 218h1v1h-1zM306 220h1v1h-1zM306 267h1v1h-1zM306 317h1v1h-1zM306 367h1v1h-1zM306 415h1v1h-1zM321 18h1v1h-1zM321 20h1v1h-1zM321 22h1v1h-1zM321 27h1v1h-1zM321 37h1v1h-1zM321 47h1v1h-1zM321 57h1v1h-1zM321 67h1v1h-1zM321 77h1v1h-1zM321 87h1v1h-1zM321 97h1v1h-1zM321 107h1v1h-1zM321 117h1v1h-1zM321 127h1v1h-1zM321 137h1v1h-1zM321 147h1v1h-1zM321 157h1v1h-1zM321 167h1v1h-1zM321 177h1v1h-1zM321 187h1v1h-1zM321 197h1v1h-1zM321 207h1v1h-1zM321 211h1v1h-1zM321 213h1v1h-1zM321 215h1v1h-1zM321 217h1v1h-1zM321 219h1v1h-1zM321 221h1v1h-1zM321 223h1v1h-1zM321 227h1v1h-1zM321 237h1v1h-1zM321 247h1v1h-1zM321 257h1v1h-1zM321 267h1v1h-1zM321 277h1v1h-1zM321 287h1v1h-1zM321 297h1v1h-1zM321 307h1v1h-1zM321 317h1v1h-1zM321 327h1v1h-1zM321 337h1v1h-1zM321 347h1v1h-1zM321 357h1v1h-1zM321 367h1v1h-1zM321 377h1v1h-1zM321 387h1v1h-1zM321 397h1v1h-1zM321 407h1v1h-1zM321 412h1v1h-1zM321 414h1v1h-1zM336 17h1v1h-1zM336 19h1v1h-1zM336 67h1v1h-1zM336 117h1v1h-1zM336 167h1v1h-1zM336 214h1v1h-1zM336 216h1v1h-1zM336 218h1v1h-1zM336 220h1v1h-1zM336 267h1v1h-1zM336 317h1v1h-1zM336 367h1v1h-1zM336 415h1v1h-1zM351 17h1v1h-1zM351 19h1v1h-1zM351 67h1v1h-1zM351 117h1v1h-1zM351 167h1v1h-1zM351 214h1v1h-1zM351 216h1v1h-1zM351 218h1v1h-1zM351 220h1v1h-1zM351 267h1v1h-1zM351 317h1v1h-1zM351 367h1v1h-1zM351 415h1v1h-1zM366 17h1v1h-1zM366 19h1v1h-1zM366 67h1v1h-1zM366 117h1v1h-1zM366 167h1v1h-1zM366 214h1v1h-1zM366 216h1v1h-1zM366 218h1v1h-1zM366 220h1v1h-1zM366 267h1v1h-1zM366 317h1v1h-1zM366 367h1v1h-1zM366 415h1v1h-1zM381 17h1v1h-1zM381 19h1v1h-1zM381 67h1v1h-1zM381 117h1v1h-1zM381 167h1v1h-1zM381 214h1v1h-1zM381 216h1v1h-1zM381 218h1v1h-1zM381 220h1v1h-1zM381 267h1v1h-1zM381 317h1v1h-1zM381 367h1v1h-1zM381 415h1v1h-1zM390 67h1v1h-1zM390 117h1v1h-1zM390 167h1v1h-1zM390 217h1v1h-1zM390 267h1v1h-1zM390 317h1v1h-1zM390 367h1v1h-1zM392 67h1v1h-1zM392 117h1v1h-1zM392 167h1v1h-1zM392 217h1v1h-1zM392 267h1v1h-1zM392 317h1v1h-1zM392 367h1v1h-1zM393 27h1v1h-1zM393 37h1v1h-1zM393 47h1v1h-1zM393 57h1v1h-1zM393 77h1v1h-1zM393 87h1v1h-1zM393 97h1v1h-1zM393 107h1v1h-1zM393 127h1v1h-1zM393 137h1v1h-1zM393 147h1v1h-1zM393 157h1v1h-1zM393 177h1v1h-1zM393 187h1v1h-1zM393 197h1v1h-1zM393 207h1v1h-1zM393 227h1v1h-1zM393 237h1v1h-1zM393 247h1v1h-1zM393 257h1v1h-1zM393 277h1v1h-1zM393 287h1v1h-1zM393 297h1v1h-1zM393 307h1v1h-1zM393 327h1v1h-1zM393 337h1v1h-1zM393 347h1v1h-1zM393 357h1v1h-1zM393 377h1v1h-1zM393 387h1v1h-1zM393 397h1v1h-1zM393 407h1v1h-1zM394 67h1v1h-1zM394 117h1v1h-1zM394 167h1v1h-1zM394 217h1v1h-1zM394 267h1v1h-1zM394 317h1v1h-1zM394 367h1v1h-1zM395 27h1v1h-1zM395 37h1v1h-1zM395 47h1v1h-1zM395 57h1v1h-1zM395 77h1v1h-1zM395 87h1v1h-1zM395 97h1v1h-1zM395 107h1v1h-1zM395 127h1v1h-1zM395 137h1v1h-1zM395 147h1v1h-1zM395 157h1v1h-1zM395 177h1v1h-1zM395 187h1v1h-1zM395 197h1v1h-1zM395 207h1v1h-1zM395 227h1v1h-1zM395 237h1v1h-1zM395 247h1v1h-1zM395 257h1v1h-1zM395 277h1v1h-1zM395 287h1v1h-1zM395 297h1v1h-1zM395 307h1v1h-1zM395 327h1v1h-1zM395 337h1v1h-1zM395 347h1v1h-1zM395 357h1v1h-1zM395 377h1v1h-1zM395 387h1v1h-1zM395 397h1v1h-1zM395 407h1v1h-1zM396 18h1v1h-1zM396 20h1v1h-1zM396 22h1v1h-1zM396 67h1v1h-1zM396 117h1v1h-1zM396 167h1v1h-1zM396 267h1v1h-1zM396 317h1v1h-1zM396 367h1v1h-1zM396 412h1v1h-1zM396 414h1v1h-1zM397 27h1v1h-1zM397 37h1v1h-1zM397 47h1v1h-1zM397 57h1v1h-1zM397 77h1v1h-1zM397 87h1v1h-1zM397 97h1v1h-1zM397 107h1v1h-1zM397 127h1v1h-1zM397 137h1v1h-1zM397 147h1v1h-1zM397 157h1v1h-1zM397 177h1v1h-1zM397 187h1v1h-1zM397 197h1v1h-1zM397 207h1v1h-1zM397 227h1v1h-1zM397 237h1v1h-1zM397 247h1v1h-1zM397 257h1v1h-1zM397 277h1v1h-1zM397 287h1v1h-1zM397 297h1v1h-1zM397 307h1v1h-1zM397 327h1v1h-1zM397 337h1v1h-1zM397 347h1v1h-1zM397 357h1v1h-1zM397 377h1v1h-1zM397 387h1v1h-1zM397 397h1v1h-1zM397 407h1v1h-1zM398 67h1v1h-1zM398 117h1v1h-1zM398 167h1v1h-1zM398 217h1v1h-1zM398 267h1v1h-1zM398 317h1v1h-1zM398 367h1v1h-1zM399 27h1v1h-1zM399 37h1v1h-1zM399 47h1v1h-1zM399 57h1v1h-1zM399 77h1v1h-1zM399 87h1v1h-1zM399 97h1v1h-1zM399 107h1v1h-1zM399 127h1v1h-1zM399 137h1v1h-1zM399 147h1v1h-1zM399 157h1v1h-1zM399 177h1v1h-1zM399 187h1v1h-1zM399 197h1v1h-1zM399 207h1v1h-1zM399 227h1v1h-1zM399 237h1v1h-1zM399 247h1v1h-1zM399 257h1v1h-1zM399 277h1v1h-1zM399 287h1v1h-1zM399 297h1v1h-1zM399 307h1v1h-1zM399 327h1v1h-1zM399 337h1v1h-1zM399 347h1v1h-1zM399 357h1v1h-1zM399 377h1v1h-1zM399 387h1v1h-1zM399 397h1v1h-1zM399 407h1v1h-1zM400 67h1v1h-1zM400 117h1v1h-1zM400 167h1v1h-1zM400 217h1v1h-1zM400 267h1v1h-1zM400 317h1v1h-1zM400 367h1v1h-1zM402 67h1v1h-1zM402 117h1v1h-1zM402 167h1v1h-1zM402 217h1v1h-1zM402 267h1v1h-1zM402 317h1v1h-1zM402 367h1v1h-1zM411 17h1v1h-1zM411 19h1v1h-1zM411 67h1v1h-1zM411 117h1v1h-1zM411 167h1v1h-1zM411 214h1v1h-1zM411 216h1v1h-1zM411 218h1v1h-1zM411 220h1v1h-1zM411 267h1v1h-1zM411 317h1v1h-1zM411 367h1v1h-1zM411 415h1v1h-1zM426 17h1v1h-1zM426 19h1v1h-1zM426 67h1v1h-1zM426 117h1v1h-1zM426 167h1v1h-1zM426 214h1v1h-1zM426 216h1v1h-1zM426 218h1v1h-1zM426 220h1v1h-1zM426 267h1v1h-1zM426 317h1v1h-1zM426 367h1v1h-1zM426 415h1v1h-1zM441 17h1v1h-1zM441 19h1v1h-1zM441 67h1v1h-1zM441 117h1v1h-1zM441 167h1v1h-1zM441 214h1v1h-1zM441 216h1v1h-1zM441 218h1v1h-1zM441 220h1v1h-1zM441 267h1v1h-1zM441 317h1v1h-1zM441 367h1v1h-1zM441 415h1v1h-1zM456 17h1v1h-1zM456 19h1v1h-1zM456 67h1v1h-1zM456 117h1v1h-1zM456 167h1v1h-1zM456 214h1v1h-1zM456 216h1v1h-1zM456 218h1v1h-1zM456 220h1v1h-1zM456 267h1v1h-1zM456 317h1v1h-1zM456 367h1v1h-1zM456 415h1v1h-1zM471 18h1v1h-1zM471 20h1v1h-1zM471 22h1v1h-1zM471 27h1v1h-1zM471 37h1v1h-1zM471 47h1v1h-1zM471 57h1v1h-1zM471 67h1v1h-1zM471 77h1v1h-1zM471 87h1v1h-1zM471 97h1v1h-1zM471 107h1v1h-1zM471 117h1v1h-1zM471 127h1v1h-1zM471 137h1v1h-1zM471 147h1v1h-1zM471 157h1v1h-1zM471 167h1v1h-1zM471 177h1v1h-1zM471 187h1v1h-1zM471 197h1v1h-1zM471 207h1v1h-1zM471 211h1v1h-1zM471 213h1v1h-1zM471 215h1v1h-1zM471 217h1v1h-1zM471 219h1v1h-1zM471 221h1v1h-1zM471 223h1v1h-1zM471 227h1v1h-1zM471 237h1v1h-1zM471 247h1v1h-1zM471 257h1v1h-1zM471 267h1v1h-1zM471 277h1v1h-1zM471 287h1v1h-1zM471 297h1v1h-1zM471 307h1v1h-1zM471 317h1v1h-1zM471 327h1v1h-1zM471 337h1v1h-1zM471 347h1v1h-1zM471 357h1v1h-1zM471 367h1v1h-1zM471 377h1v1h-1zM471 387h1v1h-1zM471 397h1v1h-1zM471 407h1v1h-1zM471 412h1v1h-1zM471 414h1v1h-1zM486 17h1v1h-1zM486 19h1v1h-1zM486 67h1v1h-1zM486 117h1v1h-1zM486 167h1v1h-1zM486 214h1v1h-1zM486 216h1v1h-1zM486 218h1v1h-1zM486 220h1v1h-1zM486 267h1v1h-1zM486 317h1v1h-1zM486 367h1v1h-1zM486 415h1v1h-1zM501 17h1v1h-1zM501 19h1v1h-1zM501 67h1v1h-1zM501 117h1v1h-1zM501 167h1v1h-1zM501 214h1v1h-1zM501 216h1v1h-1zM501 218h1v1h-1zM501 220h1v1h-1zM501 267h1v1h-1zM501 317h1v1h-1zM501 367h1v1h-1zM501 415h1v1h-1zM516 17h1v1h-1zM516 19h1v1h-1zM516 67h1v1h-1zM516 117h1v1h-1zM516 167h1v1h-1zM516 214h1v1h-1zM516 216h1v1h-1zM516 218h1v1h-1zM516 220h1v1h-1zM516 267h1v1h-1zM516 317h1v1h-1zM516 367h1v1h-1zM516 415h1v1h-1zM531 17h1v1h-1zM531 19h1v1h-1zM531 67h1v1h-1zM531 117h1v1h-1zM531 167h1v1h-1zM531 214h1v1h-1zM531 216h1v1h-1zM531 218h1v1h-1zM531 220h1v1h-1zM531 267h1v1h-1zM531 317h1v1h-1zM531 367h1v1h-1zM531 415h1v1h-1zM546 18h1v1h-1zM546 20h1v1h-1zM546 22h1v1h-1zM546 27h1v1h-1zM546 37h1v1h-1zM546 47h1v1h-1zM546 57h1v1h-1zM546 67h1v1h-1zM546 77h1v1h-1zM546 87h1v1h-1zM546 97h1v1h-1zM546 107h1v1h-1zM546 117h1v1h-1zM546 127h1v1h-1zM546 137h1v1h-1zM546 147h1v1h-1zM546 157h1v1h-1zM546 167h1v1h-1zM546 177h1v1h-1zM546 187h1v1h-1zM546 197h1v1h-1zM546 207h1v1h-1zM546 211h1v1h-1zM546 213h1v1h-1zM546 215h1v1h-1zM546 217h1v1h-1zM546 219h1v1h-1zM546 221h1v1h-1zM546 223h1v1h-1zM546 227h1v1h-1zM546 237h1v1h-1zM546 247h1v1h-1zM546 257h1v1h-1zM546 267h1v1h-1zM546 277h1v1h-1zM546 287h1v1h-1zM546 297h1v1h-1zM546 307h1v1h-1zM546 317h1v1h-1zM546 327h1v1h-1zM546 337h1v1h-1zM546 347h1v1h-1zM546 357h1v1h-1zM546 367h1v1h-1zM546 377h1v1h-1zM546 387h1v1h-1zM546 397h1v1h-1zM546 407h1v1h-1zM546 412h1v1h-1zM546 414h1v1h-1zM561 17h1v1h-1zM561 19h1v1h-1zM561 67h1v1h-1zM561 117h1v1h-1zM561 167h1v1h-1zM561 214h1v1h-1zM561 216h1v1h-1zM561 218h1v1h-1zM561 220h1v1h-1zM561 267h1v1h-1zM561 317h1v1h-1zM561 367h1v1h-1zM561 415h1v1h-1zM576 17h1v1h-1zM576 19h1v1h-1zM576 67h1v1h-1zM576 117h1v1h-1zM576 167h1v1h-1zM576 214h1v1h-1zM576 216h1v1h-1zM576 218h1v1h-1zM576 220h1v1h-1zM576 267h1v1h-1zM576 317h1v1h-1zM576 367h1v1h-1zM576 415h1v1h-1zM591 17h1v1h-1zM591 19h1v1h-1zM591 67h1v1h-1zM591 117h1v1h-1zM591 167h1v1h-1zM591 214h1v1h-1zM591 216h1v1h-1zM591 218h1v1h-1zM591 220h1v1h-1zM591 267h1v1h-1zM591 317h1v1h-1zM591 367h1v1h-1zM591 415h1v1h-1zM606 17h1v1h-1zM606 19h1v1h-1zM606 67h1v1h-1zM606 117h1v1h-1zM606 167h1v1h-1zM606 214h1v1h-1zM606 216h1v1h-1zM606 218h1v1h-1zM606 220h1v1h-1zM606 267h1v1h-1zM606 317h1v1h-1zM606 367h1v1h-1zM606 415h1v1h-1zM621 18h1v1h-1zM621 20h1v1h-1zM621 22h1v1h-1zM621 27h1v1h-1zM621 37h1v1h-1zM621 47h1v1h-1zM621 57h1v1h-1zM621 67h1v1h-1zM621 77h1v1h-1zM621 87h1v1h-1zM621 97h1v1h-1zM621 107h1v1h-1zM621 117h1v1h-1zM621 127h1v1h-1zM621 137h1v1h-1zM621 147h1v1h-1zM621 157h1v1h-1zM621 167h1v1h-1zM621 177h1v1h-1zM621 187h1v1h-1zM621 197h1v1h-1zM621 207h1v1h-1zM621 211h1v1h-1zM621 213h1v1h-1zM621 215h1v1h-1zM621 217h1v1h-1zM621 219h1v1h-1zM621 221h1v1h-1zM621 223h1v1h-1zM621 227h1v1h-1zM621 237h1v1h-1zM621 247h1v1h-1zM621 257h1v1h-1zM621 267h1v1h-1zM621 277h1v1h-1zM621 287h1v1h-1zM621 297h1v1h-1zM621 307h1v1h-1zM621 317h1v1h-1zM621 327h1v1h-1zM621 337h1v1h-1zM621 347h1v1h-1zM621 357h1v1h-1zM621 367h1v1h-1zM621 377h1v1h-1zM621 387h1v1h-1zM621 397h1v1h-1zM621 407h1v1h-1zM621 412h1v1h-1zM621 414h1v1h-1zM636 17h1v1h-1zM636 19h1v1h-1zM636 67h1v1h-1zM636 117h1v1h-1zM636 167h1v1h-1zM636 214h1v1h-1zM636 216h1v1h-1zM636 218h1v1h-1zM636 220h1v1h-1zM636 267h1v1h-1zM636 317h1v1h-1zM636 367h1v1h-1zM636 415h1v1h-1zM651 17h1v1h-1zM651 19h1v1h-1zM651 67h1v1h-1zM651 117h1v1h-1zM651 167h1v1h-1zM651 214h1v1h-1zM651 216h1v1h-1zM651 218h1v1h-1zM651 220h1v1h-1zM651 267h1v1h-1zM651 317h1v1h-1zM651 367h1v1h-1zM651 415h1v1h-1zM666 17h1v1h-1zM666 19h1v1h-1zM666 67h1v1h-1zM666 117h1v1h-1zM666 167h1v1h-1zM666 214h1v1h-1zM666 216h1v1h-1zM666 218h1v1h-1zM666 220h1v1h-1zM666 267h1v1h-1zM666 317h1v1h-1zM666 367h1v1h-1zM666 415h1v1h-1zM681 17h1v1h-1zM681 19h1v1h-1zM681 67h1v1h-1zM681 117h1v1h-1zM681 167h1v1h-1zM681 214h1v1h-1zM681 216h1v1h-1zM681 218h1v1h-1zM681 220h1v1h-1zM681 267h1v1h-1zM681 317h1v1h-1zM681 367h1v1h-1zM681 415h1v1h-1zM696 18h1v1h-1zM696 20h1v1h-1zM696 22h1v1h-1zM696 27h1v1h-1zM696 37h1v1h-1zM696 47h1v1h-1zM696 57h1v1h-1zM696 67h1v1h-1zM696 77h1v1h-1zM696 87h1v1h-1zM696 97h1v1h-1zM696 107h1v1h-1zM696 117h1v1h-1zM696 127h1v1h-1zM696 137h1v1h-1zM696 147h1v1h-1zM696 157h1v1h-1zM696 167h1v1h-1zM696 177h1v1h-1zM696 187h1v1h-1zM696 197h1v1h-1zM696 207h1v1h-1zM696 211h1v1h-1zM696 213h1v1h-1zM696 215h1v1h-1zM696 217h1v1h-1zM696 219h1v1h-1zM696 221h1v1h-1zM696 223h1v1h-1zM696 227h1v1h-1zM696 237h1v1h-1zM696 247h1v1h-1zM696 257h1v1h-1zM696 267h1v1h-1zM696 277h1v1h-1zM696 287h1v1h-1zM696 297h1v1h-1zM696 307h1v1h-1zM696 317h1v1h-1zM696 327h1v1h-1zM696 337h1v1h-1zM696 347h1v1h-1zM696 357h1v1h-1zM696 367h1v1h-1zM696 377h1v1h-1zM696 387h1v1h-1zM696 397h1v1h-1zM696 407h1v1h-1zM696 412h1v1h-1zM696 414h1v1h-1zM711 17h1v1h-1zM711 19h1v1h-1zM711 67h1v1h-1zM711 117h1v1h-1zM711 167h1v1h-1zM711 214h1v1h-1zM711 216h1v1h-1zM711 218h1v1h-1zM711 220h1v1h-1zM711 267h1v1h-1zM711 317h1v1h-1zM711 367h1v1h-1zM711 415h1v1h-1zM726 17h1v1h-1zM726 19h1v1h-1zM726 67h1v1h-1zM726 117h1v1h-1zM726 167h1v1h-1zM726 214h1v1h-1zM726 216h1v1h-1zM726 218h1v1h-1zM726 220h1v1h-1zM726 267h1v1h-1zM726 317h1v1h-1zM726 367h1v1h-1zM726 415h1v1h-1zM741 17h1v1h-1zM741 19h1v1h-1zM741 67h1v1h-1zM741 117h1v1h-1zM741 167h1v1h-1zM741 214h1v1h-1zM741 216h1v1h-1zM741 218h1v1h-1zM741 220h1v1h-1zM741 267h1v1h-1zM741 317h1v1h-1zM741 367h1v1h-1zM741 415h1v1h-1zM756 17h1v1h-1zM756 19h1v1h-1zM756 67h1v1h-1zM756 117h1v1h-1zM756 167h1v1h-1zM756 214h1v1h-1zM756 216h1v1h-1zM756 218h1v1h-1zM756 220h1v1h-1zM756 267h1v1h-1zM756 317h1v1h-1zM756 367h1v1h-1zM756 415h1v1h-1zM765 67h1v1h-1zM765 117h1v1h-1zM765 167h1v1h-1zM765 217h1v1h-1zM765 267h1v1h-1zM765 317h1v1h-1zM765 367h1v1h-1zM767 67h1v1h-1zM767 117h1v1h-1zM767 167h1v1h-1zM767 217h1v1h-1zM767 267h1v1h-1zM767 317h1v1h-1zM767 367h1v1h-1zM768 27h1v1h-1zM768 37h1v1h-1zM768 47h1v1h-1zM768 57h1v1h-1zM768 77h1v1h-1zM768 87h1v1h-1zM768 97h1v1h-1zM768 107h1v1h-1zM768 127h1v1h-1zM768 137h1v1h-1zM768 147h1v1h-1zM768 157h1v1h-1zM768 177h1v1h-1zM768 187h1v1h-1zM768 197h1v1h-1zM768 207h1v1h-1zM768 227h1v1h-1zM768 237h1v1h-1zM768 247h1v1h-1zM768 257h1v1h-1zM768 277h1v1h-1zM768 287h1v1h-1zM768 297h1v1h-1zM768 307h1v1h-1zM768 327h1v1h-1zM768 337h1v1h-1zM768 347h1v1h-1zM768 357h1v1h-1zM768 377h1v1h-1zM768 387h1v1h-1zM768 397h1v1h-1zM768 407h1v1h-1zM769 67h1v1h-1zM769 117h1v1h-1zM769 167h1v1h-1zM769 217h1v1h-1zM769 267h1v1h-1zM769 317h1v1h-1zM769 367h1v1h-1zM770 27h1v1h-1zM770 37h1v1h-1zM770 47h1v1h-1zM770 57h1v1h-1zM770 77h1v1h-1zM770 87h1v1h-1zM770 97h1v1h-1zM770 107h1v1h-1zM770 127h1v1h-1zM770 137h1v1h-1zM770 147h1v1h-1zM770 157h1v1h-1zM770 177h1v1h-1zM770 187h1v1h-1zM770 197h1v1h-1zM770 207h1v1h-1zM770 227h1v1h-1zM770 237h1v1h-1zM770 247h1v1h-1zM770 257h1v1h-1zM770 277h1v1h-1zM770 287h1v1h-1zM770 297h1v1h-1zM770 307h1v1h-1zM770 327h1v1h-1zM770 337h1v1h-1zM770 347h1v1h-1zM770 357h1v1h-1zM770 377h1v1h-1zM770 387h1v1h-1zM770 397h1v1h-1zM770 407h1v1h-1z"/>
</g>
<g shape-rendering="crispEdges">
<rect x="391" y="1" width="11" height="14" fill="#fff"/>
<rect x="391" y="1" width="2" height="14" fill="#000"/><rect x="400" y="1" width="2" height="14" fill="#000"/>
<rect x="393" y="13" width="2" height="2" fill="#000"/><rect x="398" y="13" width="2" height="2" fill="#000"/>
<rect x="390" y="6" width="1" height="9" fill="#e8a030"/><rect x="390" y="15" width="8" height="1" fill="#e09020"/>
<rect x="395" y="3" width="3" height="12" fill="#ff9900"/>
</g>
<path d="M393.5 1h6l-2 2.5h-2z" fill="#ff9900"/>
<path d="M391 17h11l-5.5 5.5z" fill="#ff9900"/>
<rect x="396" y="22" width="1" height="4" fill="#000" shape-rendering="crispEdges"/>
<path d="M241 24h10l1 1v10.5l-6 3.5l-6-3.5v-10.5z" fill="#ff9900"/>
<text filter="url(#tf)" x="241" y="36.6" font-size="16" font-weight="bold" fill="#fff" textLength="10" lengthAdjust="spacingAndGlyphs">T</text>
<path d="M760 335.5l6-5.5v11z" fill="#a800a8"/><rect x="765" y="335" width="6" height="1" fill="#a800a8" shape-rendering="crispEdges"/>
<path d="M0.6 310h11.4l7.6 7.5l-7.6 7.5h-11.4l-0.5-0.5v-14z" fill="#b08a3c" stroke="#0000ff" stroke-width="2" stroke-linejoin="miter"/>
<path d="M3 312.5h2.2v9.8h-2.2z" fill="#5e5e5e"/>
<path d="M10.8 312.5h1.4l4.4 5l-4.4 4.8h-1.4z" fill="#5e5e5e"/>
<text filter="url(#tf)" x="3.1" y="322.7" font-size="15.4" fill="#0000ff" stroke="#0000ff" stroke-width="0.5">1</text>
<path d="M3 320.6h3.9v2.7h-3.9zM8.9 320.6h1.9v2.7h-1.9z" fill="#b08a3c"/>
<path d="M3 320.6h2.2v1.7h-2.2z" fill="#5e5e5e"/>
<path d="M0 361.6h13l6.8 7.9l-6.8 8h-13z" fill="#d890d8"/>
<rect x="0" y="362" width="2" height="15.5" fill="#d0a6d0"/>
<path d="M1 377h12" stroke="#a888a8" stroke-width="1.2"/>
<text filter="url(#tf)" x="3.4" y="374.6" font-size="14.4" font-weight="bold" fill="#6a6a6a" textLength="7.8" lengthAdjust="spacingAndGlyphs">3</text>
<rect x="20.5" y="420.5" width="320" height="38" rx="6.5" ry="6.5" fill="#fff" stroke="#111" stroke-width="1"/>
<rect x="344.5" y="420.5" width="339" height="38" rx="6.5" ry="6.5" fill="#fff" stroke="#111" stroke-width="1"/>
<rect x="687.5" y="420.5" width="110" height="38" rx="6.5" ry="6.5" fill="#fff" stroke="#111" stroke-width="1"/>
<rect x="26" y="423" width="25" height="16" rx="8" fill="#1010ff"/>
<rect x="26" y="441" width="25" height="15.5" rx="7.7" fill="#9a009a"/>
<rect x="597" y="423" width="25" height="15.5" rx="7.7" fill="#9a009a"/>
<rect x="349" y="442" width="12" height="13" rx="2" fill="#ff9900"/>
<text filter="url(#tf)" x="351" y="454" font-size="14.5" font-weight="bold" fill="#fff" textLength="8" lengthAdjust="spacingAndGlyphs">T</text>
<path d="M362 448h8M367 445l3.2 3l-3.2 3" fill="none" stroke="#ff9900" stroke-width="1.2"/>
<path d="M372 444.6h11.4l-5.7 6.4z" fill="#ff9900"/>
<path d="M631 435.5h3.5l5-11h3" fill="none" stroke="#000" stroke-width="1.2"/>
<g filter="url(#tf)" stroke="#fff" stroke-width="0.14"><text x="23.6" y="322" textLength="41.2" lengthAdjust="spacingAndGlyphs">VBUSA</text><text x="24.2" y="374" textLength="44" lengthAdjust="spacingAndGlyphs">iVBUSA</text><text x="-0.3" y="14.9" textLength="31.6" lengthAdjust="spacingAndGlyphs" font-size="19" font-family="Liberation Serif, serif" font-weight="bold">Tek</text><text x="34.3" y="13" textLength="29.4" lengthAdjust="spacingAndGlyphs">Stop</text><text x="34.6" y="436" font-size="14.8" fill="#fff" stroke="#fff" stroke-width="0.8">1</text><path d="M33.4 434h4.3v3.6h-4.3zM40.75 434h3.6v3.6h-3.6z" fill="#1010ff" stroke="none"/><text x="34.6" y="454.4" textLength="7.8" lengthAdjust="spacingAndGlyphs" font-size="15.8" fill="#fff" stroke="#fff" stroke-width="0.45">3</text><text x="605.6" y="436.4" textLength="7.8" lengthAdjust="spacingAndGlyphs" font-size="15.8" fill="#fff" stroke="#fff" stroke-width="0.45">3</text><text x="67.2" y="436" textLength="41" lengthAdjust="spacingAndGlyphs" fill="#1a1aff">1.00 V</text><text x="67.2" y="454" textLength="41" lengthAdjust="spacingAndGlyphs" fill="#9a009a">5.00 A</text><text x="349.4" y="436" textLength="42.2" lengthAdjust="spacingAndGlyphs">10.0µs</text><text x="383.6" y="454" textLength="74" lengthAdjust="spacingAndGlyphs" fill="#ff9900">20.00000µs</text><text x="484.2" y="436" textLength="58.6" lengthAdjust="spacingAndGlyphs">2.50GS/s</text><text x="484.6" y="454" textLength="68.6" lengthAdjust="spacingAndGlyphs">10M points</text><text x="603.2" y="454" textLength="41.6" lengthAdjust="spacingAndGlyphs">3.40 A</text><text x="711.4" y="436" textLength="81" lengthAdjust="spacingAndGlyphs">13 Dec  2017</text><text x="711.4" y="454" textLength="57" lengthAdjust="spacingAndGlyphs">02:38:26</text></g>
</svg>
</body></html>
